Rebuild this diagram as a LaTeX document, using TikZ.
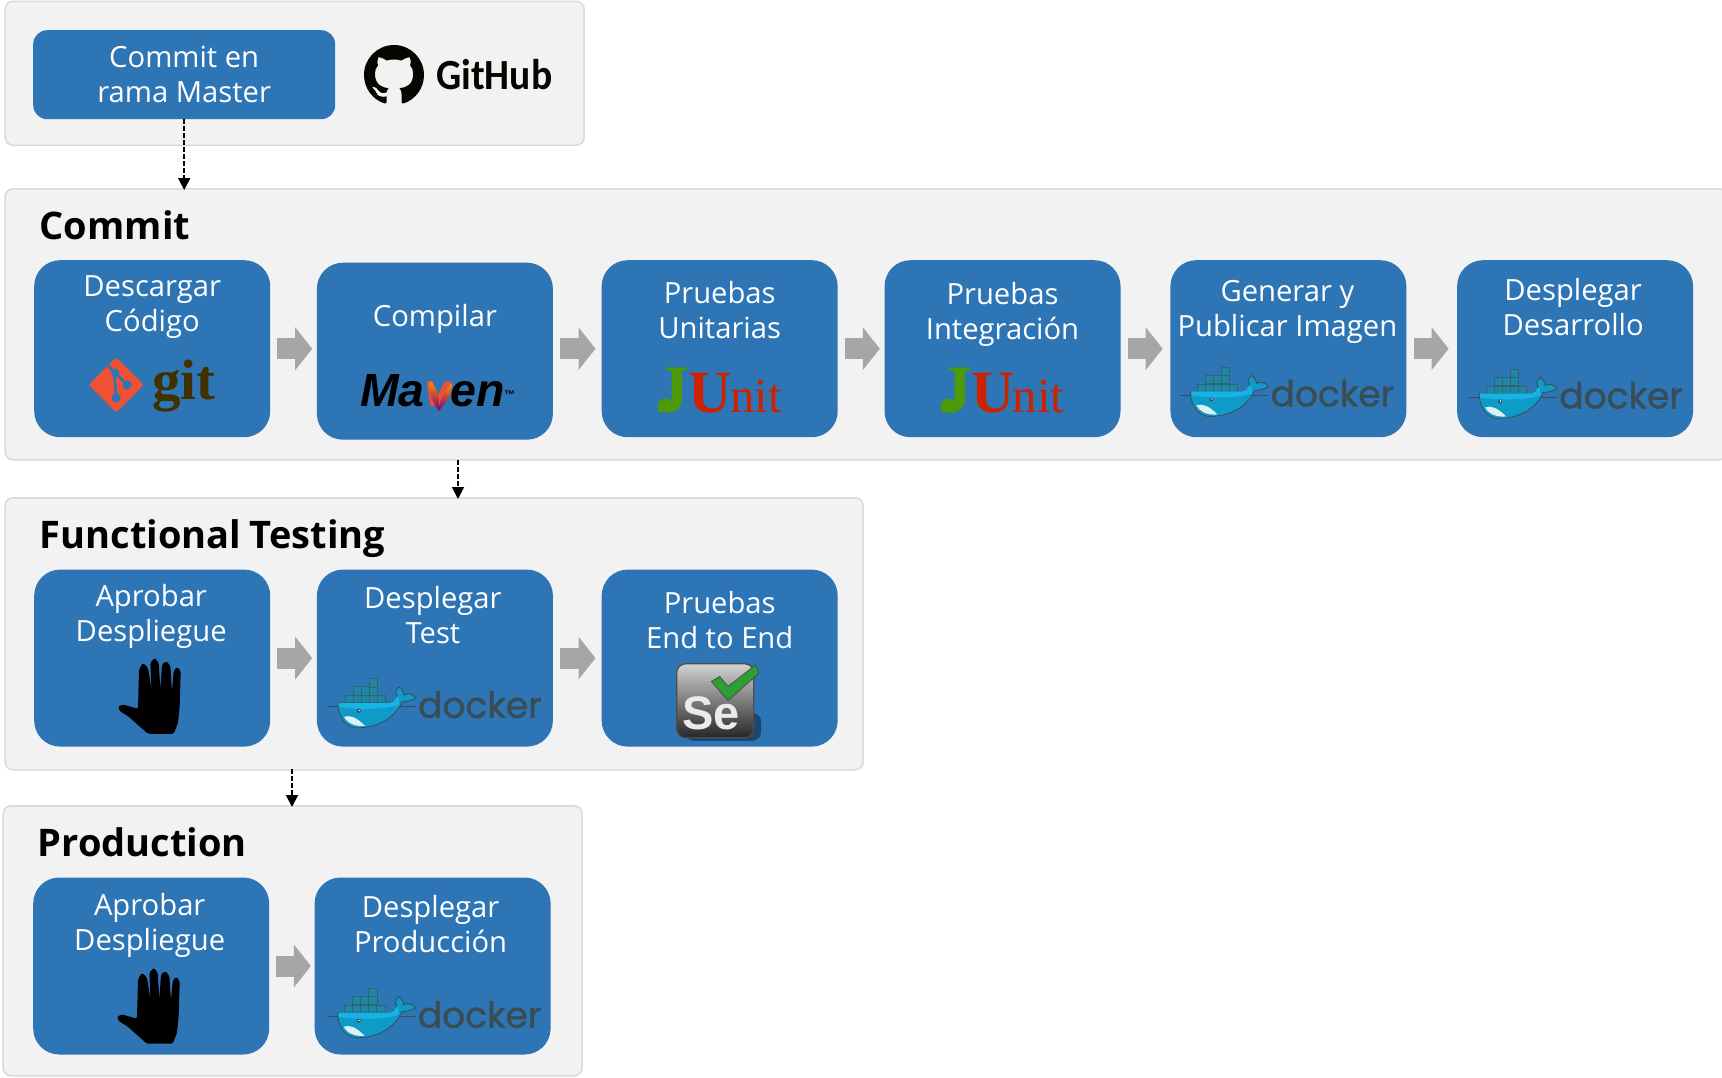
\documentclass[tikz,border=0pt]{standalone}
\usepackage{fontspec}
\usepackage{xcolor}
\setmainfont{Open Sans}
\newfontfamily\ghfont[FakeStretch=0.92]{Carlito}
\newfontfamily\serfont{Liberation Serif}
\newfontfamily\mvnfont{Liberation Sans}
\newfontfamily\dkfont[FakeBold=1]{Poppins}
\usetikzlibrary{arrows.meta,positioning,backgrounds,svg.path}
\definecolor{ink}{HTML}{000000}
\definecolor{panelF}{HTML}{F2F2F2}
\definecolor{panelD}{HTML}{D9D9D9}
\definecolor{blu}{HTML}{2E75B6}
\definecolor{gry}{HTML}{A6A6A6}
\definecolor{gitO}{HTML}{F05133}
\definecolor{gitB}{HTML}{413000}
\definecolor{jgrn}{HTML}{4B9A06}
\definecolor{jred}{HTML}{CC2200}
\definecolor{dkT}{HTML}{394D54}
\definecolor{dkW}{HTML}{0F9BC7}
\definecolor{dkL}{HTML}{16B4E6}
\definecolor{dkC}{HTML}{1F86A6}
\definecolor{selG}{HTML}{2CA033}
\tikzset{
  panel/.style    ={draw=panelD, fill=panelF, line width=1.5pt, rounded corners=8pt,
                    anchor=north west, inner sep=0pt},
  stagebox/.style ={fill=blu, rounded corners=26pt, minimum width=236pt,
                    minimum height=177pt, inner sep=0pt},
  boxtext/.style  ={font=\fontsize{29.2}{35}\selectfont, text=white, align=center, inner sep=0pt},
  heading/.style  ={font=\fontsize{38}{44}\selectfont\bfseries, text=ink, anchor=base west, inner sep=0pt},
  flow/.style     ={-{Triangle[length=17pt,width=42pt]}, line width=21pt, draw=gry},
  drop/.style     ={-{Stealth[length=12pt,width=12pt,inset=0pt]}, line width=1.8pt, draw=ink,
                    dash pattern=on 4.5pt off 2.5pt, shorten >=-2pt},
  gitlogo/.pic={
    \fill[gitO, rounded corners=2pt] (-27.5,0)--(0,27.5)--(27.5,0)--(0,-27.5)--cycle;
    \draw[blu, line width=2.6pt] (-9,20)--(-2,13)--(0,-12) (-2,13)--(11,0);
    \fill[blu] (-1,12) circle (4.2pt) (11,0) circle (4.6pt) (0,-13) circle (4.6pt);
    \node[font=\serfont\fontsize{57}{57}\selectfont\bfseries, text=gitB, anchor=base west, inner sep=0pt]
       (-txt) at (36,-14.5) {git};
  },
  mavenlogo/.pic={
    \node[font=\mvnfont\fontsize{46.5}{46.5}\selectfont\bfseries\itshape, text=ink, anchor=base west, inner sep=0pt]
       (-txt) at (0,0) {Ma\textcolor{gitO}{v}en\kern-1pt\raisebox{8pt}{\fontsize{11}{11}\selectfont ™}};
    \shade[top color=orange!90!yellow, bottom color=violet] (70,26) .. controls (67,14) and (73,4) .. (79,-4) .. controls (80,8) and (78,20) .. (70,26) -- cycle;
    \shade[top color=orange!90!yellow, bottom color=violet] (92,24) .. controls (86,18) and (79,8) .. (79,-4) .. controls (85,3) and (93,12) .. (92,24) -- cycle;
  },
  junitlogo/.pic={
    \fill[jgrn] (-54,8) circle (6.5pt);
    \node[font=\serfont, anchor=base, inner sep=0pt] (-txt) at (-1,0)
      {\textcolor{jgrn}{\fontsize{68}{68}\selectfont\bfseries J}\kern-1pt\textcolor{jred}{\fontsize{60}{60}\selectfont\bfseries U\kern-2pt\fontsize{49}{49}\selectfont\mdseries nit}};
  },
  dockerlogo/.pic={
    \draw[dkT, line width=.7pt] (0,21)--(88,21);
    \foreach \cx/\cy in {17/24,25/24,33/24,41/24,49/24,25/33,33/33,41/33,41/41}
       \draw[fill=dkC, draw=dkT!60!dkC, line width=.6pt] (\cx,\cy) rectangle ++(8.2,8.6);
    \fill[dkW, draw=dkT, line width=.8pt] (10,25) -- (62,25) .. controls (66,25) and (68,28) .. (69,32)
       .. controls (66,36) and (70,40) .. (71,41) .. controls (73,39) and (76,37) .. (76,33)
       .. controls (80,35) and (85,34) .. (88,30) .. controls (84,27) and (78,26) .. (74,26)
       .. controls (70,15) and (55,0) .. (30,0) .. controls (15,0) and (10,15) .. (10,25) -- cycle;
    \fill[dkL] (11,25) -- (62,25) .. controls (65,25) and (67,27) .. (68,30) -- (71,31) .. controls (70,27) and (72,24) .. (72,23)
       .. controls (55,18) and (30,18) .. (11,21) -- cycle;
    \fill[white!85!dkW] (16,11) .. controls (22,13) and (28,11) .. (37,2) .. controls (28,1) and (20,4) .. (16,11) -- cycle;
    \fill[dkT] (31,17) circle (2pt);
    \fill[white] (31.4,17.4) circle (.8pt);
    \node[font=\dkfont\fontsize{36}{36}\selectfont, text=dkT, anchor=base west, inner sep=0pt]
       (-txt) at (90,10) {docker};
  },
  handicon/.pic={
    \fill[ink, rounded corners=1.5pt] (-12.7,0) -- (-32.7,17.7) -- (-41,22.7) -- (-42.7,27) -- (-37.7,29.3) -- (-22.7,25)
       -- (-21.7,64.3) -- (-17.7,71) -- (-12.7,66) -- (-9.3,44.3) -- (-10.3,71) -- (-6,76) -- (-2,71) -- (-.3,44.3)
       -- (1.3,69.3) -- (5.7,72.7) -- (9.7,67.7) -- (11.3,42.7) -- (13,62.7) -- (16.3,67) -- (20,62.7)
       -- (19,27.7) -- (17.3,11) -- (13,0) -- cycle;
  },
  selenium/.pic={
    \fill[blu!60!black, rounded corners=9pt] (-30,-40) rectangle (46,-12);
    \shade[top color=gray!35, bottom color=black!85, draw=black!70, line width=1.2pt, rounded corners=9pt]
       (-38.5,-37) rectangle (38.5,37);
    \node[font=\mvnfont\fontsize{47}{47}\selectfont\bfseries, text=white!92!black, anchor=base west, inner sep=0pt]
       (-txt) at (-33,-29) {Se};
    \fill[selG, draw=black!70, line width=.8pt] (-3.8,19.3) -- (4.5,24.3) -- (12.8,14.3) -- (40.5,36)
       -- (43.8,27.7) -- (12.8,0.3) -- cycle;
  },
}
\begin{document}
\begin{tikzpicture}[x=1pt,y=1pt]
  \useasboundingbox (0,-1077) rectangle (1722,0);
  % --- group panels ---
  \node[panel, minimum width=579pt, minimum height=144pt] (pRepo) at (4.4,-.5) {};
  \node[panel, minimum width=1722pt, minimum height=271pt] (pCommit) at (4.4,-188) {};
  \node[panel, minimum width=858pt, minimum height=272pt] (pFunc) at (4.4,-497) {};
  \node[panel, minimum width=579pt, minimum height=270pt] (pProd) at (2.4,-805) {};
  \node[heading] (hCommit) at (39.5,-239.5) {Commit};
  \node[heading] (hFunc) at (39.5,-548) {Functional\kern-1pt\ Testing};
  \node[heading] (hProd) at (37.5,-856.6) {Production};
  % --- repository ---
  \node[stagebox, rounded corners=14pt, minimum width=302pt, minimum height=89pt, anchor=north west] (master) at (33,-30) {};
  \node[boxtext] (masterT) at (master) {Commit en\\rama Master};
  \fill[ink!90!gitB] svg[shift={(364,-105)}, xscale=3.75, yscale=-3.75, shift={(0,-16)}] {M 8 0 C 3.58 0 0 3.58 0 8 c 0 3.54 2.29 6.53 5.47 7.59 0.4 0.07 0.55 -0.17 0.55 -0.38 0 -0.19 -0.01 -0.82 -0.01 -1.49 -2.01 0.37 -2.53 -0.49 -2.69 -0.94 -0.09 -0.23 -0.48 -0.94 -0.82 -1.13 -0.28 -0.15 -0.68 -0.52 -0.01 -0.53 0.63 -0.01 1.08 0.58 1.23 0.82 0.72 1.21 1.87 0.87 2.33 0.66 0.07 -0.52 0.28 -0.87 0.51 -1.07 -1.78 -0.2 -3.64 -0.89 -3.64 -3.95 0 -0.87 0.31 -1.59 0.82 -2.15 -0.08 -0.2 -0.36 -1.02 0.08 -2.12 0 0 0.67 -0.21 2.2 0.82 0.64 -0.18 1.32 -0.27 2 -0.27 0.68 0 1.36 0.09 2 0.27 1.53 -1.04 2.2 -0.82 2.2 -0.82 0.44 1.1 0.16 1.92 0.08 2.12 0.51 0.56 0.82 1.27 0.82 2.15 0 3.07 -1.87 3.75 -3.65 3.95 0.29 0.25 0.54 0.73 0.54 1.48 0 1.07 -0.01 1.93 -0.01 2.2 0 0.21 0.15 0.46 0.55 0.38 C 13.71 14.53 16 11.53 16 8 C 16 3.58 12.42 0 8 0 Z};
  \node[font=\ghfont\fontsize{43}{43}\selectfont\bfseries, text=ink!90!gitB, anchor=base west, inner sep=0pt]
       (ghT) at (436,-89) {GitHub};
  % --- commit band ---
  \node[stagebox, anchor=north west] (desc) at (34,-260) {};
  \node[stagebox, right=46.3pt of desc, yshift=-2.5pt] (comp) {};
  \node[stagebox, right=48.4pt of comp, yshift=2.5pt] (unit) {};
  \node[stagebox, right=46.4pt of unit] (integ) {};
  \node[stagebox, right=49.5pt of integ] (gen) {};
  \node[stagebox, right=50.3pt of gen] (desa) {};
  \node[boxtext] (descT) at ([yshift=-47.5pt]desc.north) {Descargar\\Código};
  \node[boxtext] (compT) at ([yshift=-56pt]comp.north) {Compilar};
  \node[boxtext] (unitT) at ([yshift=-50.5pt]unit.north) {Pruebas\\Unitarias};
  \node[boxtext] (integT) at ([yshift=-54pt]integ.north) {Pruebas\\Integración};
  \node[boxtext] (genT) at ([xshift=-1pt,yshift=-51.5pt]gen.north) {Generar y\\Publicar Imagen};
  \node[boxtext] (desaT) at ([xshift=-2pt,yshift=-46.7pt]desa.north) {Desplegar\\Desarrollo};
  \pic (gitA) at ([shift={(-36,52.5)}]desc.south) {gitlogo};
  \pic (mvnA) at ([shift={(-75,33)}]comp.south) {mavenlogo};
  \pic (juA) at ([shift={(0,24.5)}]unit.south) {junitlogo};
  \pic (juB) at ([shift={(0,24.5)}]integ.south) {junitlogo};
  \pic (dkA) at ([shift={(-108,21)}]gen.south) {dockerlogo};
  \pic (dkB) at ([shift={(-106,19)}]desa.south) {dockerlogo};
  % --- functional testing band ---
  \node[stagebox, below=132pt of desc] (aprobT) {};
  \node[stagebox, right=46.3pt of aprobT] (despT) {};
  \node[stagebox, right=48.4pt of despT] (etoe) {};
  \node[boxtext] (aprobTT) at ([xshift=-1pt,yshift=-47.5pt]aprobT.north) {Aprobar\\Despliegue};
  \node[boxtext] (despTT) at ([xshift=-2pt,yshift=-46pt]despT.north) {Desplegar\\Test};
  \node[boxtext] (etoeT) at ([yshift=-50.5pt]etoe.north) {Pruebas\\End to End};
  \pic (handA) at ([shift={(8.5,13)}]aprobT.south) {handicon};
  \pic (dkC) at ([shift={(-107,19)}]despT.south) {dockerlogo};
  \pic (seA) at ([shift={(-4.5,46)}]etoe.south) {selenium};
  % --- production band ---
  \node[stagebox, below=130.5pt of aprobT, xshift=-1pt] (aprobP) {};
  \node[stagebox, right=45pt of aprobP] (despP) {};
  \node[boxtext] (aprobPT) at ([xshift=-1.5pt,yshift=-48.3pt]aprobP.north) {Aprobar\\Despliegue};
  \node[boxtext] (despPT) at ([xshift=-2pt,yshift=-46.7pt]despP.north) {Desplegar\\Producción};
  \pic (handB) at ([shift={(8.5,11)}]aprobP.south) {handicon};
  \pic (dkD) at ([shift={(-105,17)}]despP.south) {dockerlogo};
  % --- block arrows ---
  \foreach \a/\b/\s/\r in {desc/comp/4.5/desc,comp/unit/6/desc,unit/integ/4.5/desc,integ/gen/7.5/desc,gen/desa/8.3/desc,
                           aprobT/despT/4.5/aprobT,despT/etoe/6/aprobT,aprobP/despP/3.5/aprobP}
     \draw[flow, shorten <=7pt, shorten >=\s pt] (\a.east|-\r.east) -- (\b.west|-\r.east);
  % --- dashed links between bands ---
  \coordinate (dropA) at (458,-460);
  \coordinate (dropB) at (292,-769);
  \draw[drop] (master.south) -- (master.south|-pCommit.north);
  \draw[drop] (dropA) -- (dropA|-pFunc.north);
  \draw[drop] (dropB) -- (dropB|-pProd.north);
\end{tikzpicture}
\end{document}
